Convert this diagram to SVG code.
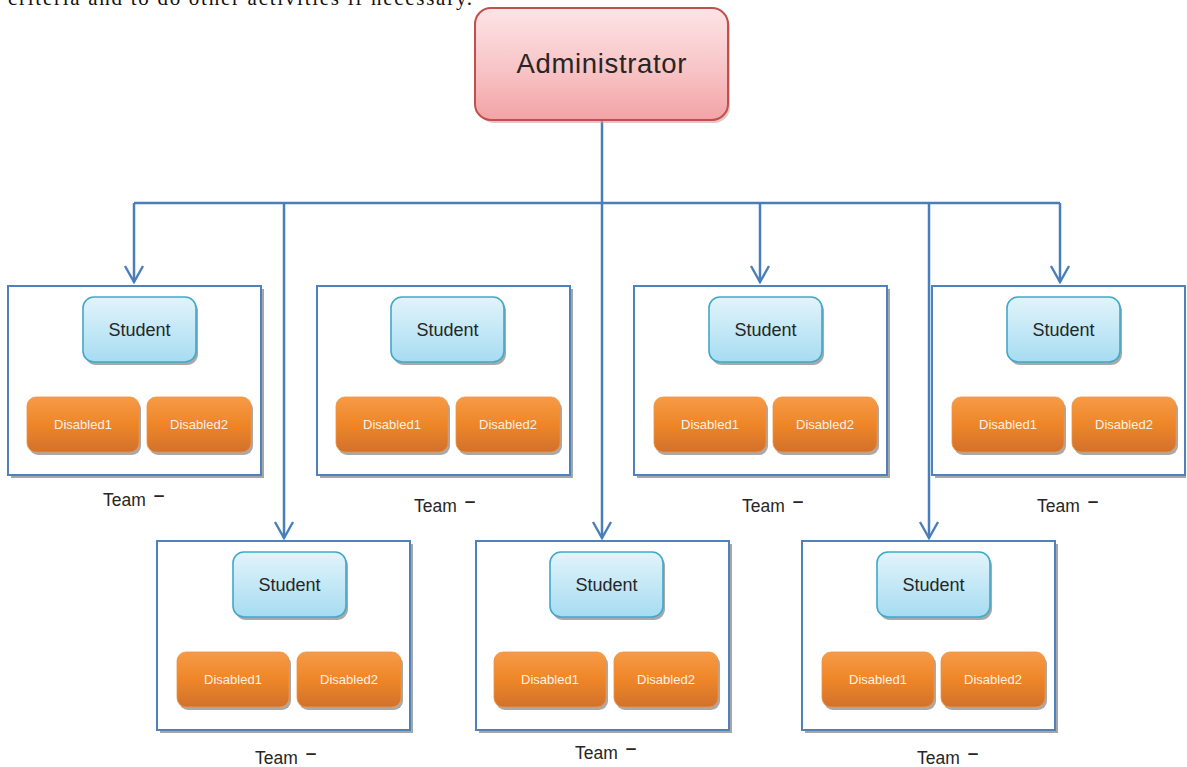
<svg xmlns="http://www.w3.org/2000/svg" width="1187" height="767" viewBox="0 0 1187 767">
<defs>
<linearGradient id="gAdmin" x1="0" y1="0" x2="0" y2="1"><stop offset="0" stop-color="#fde4e6"/><stop offset="0.55" stop-color="#f8c4c6"/><stop offset="1" stop-color="#f3a3a6"/></linearGradient>
<linearGradient id="gStu" x1="0" y1="0" x2="0" y2="1"><stop offset="0" stop-color="#e2f4fb"/><stop offset="1" stop-color="#a6dcf1"/></linearGradient>
<linearGradient id="gDis" x1="0" y1="0" x2="0" y2="1"><stop offset="0" stop-color="#f79a47"/><stop offset="0.5" stop-color="#ee8628"/><stop offset="1" stop-color="#d2712c"/></linearGradient>
<marker id="arr" viewBox="-2 -11 20 22" markerWidth="20" markerHeight="22" refX="16" refY="0" orient="auto" markerUnits="userSpaceOnUse"><path d="M0 -9 L16 0 L0 9" fill="none" stroke="#4a7ebb" stroke-width="2.4"/></marker>
</defs>
<style>
.team{fill:#fff;stroke:#4f81bd;stroke-width:2}
.tsh{fill:#a6a6a6}
.stu{fill:url(#gStu);stroke:#3fa9c9;stroke-width:1.6}
.dis{fill:url(#gDis);stroke:#f0923c;stroke-width:0.8}
.sh{fill:#a9a9a9}
.st{font-family:"Liberation Sans",Arial,sans-serif;font-size:18px;fill:#262626;text-anchor:middle}
.dt{font-family:"Liberation Sans",Arial,sans-serif;font-size:13px;fill:#fdf1e6;text-anchor:middle}
.tl{font-family:"Liberation Sans",Arial,sans-serif;font-size:17.5px;fill:#262626}
.dash{font-size:19px;font-weight:bold}
.con{fill:none;stroke:#4a7ebb;stroke-width:2.5}
</style>
<text x="8" y="5" font-family="'Liberation Serif','Times New Roman',serif" font-size="21" fill="#111" textLength="464" lengthAdjust="spacing">criteria and to do other activities if necessary.</text>

<g id="connectors">
<path class="con" d="M602 120 V203"/>
<path class="con" d="M134 203 H1060"/>
<path class="con" d="M134 203 V282" marker-end="url(#arr)"/>
<path class="con" d="M284 203 V538" marker-end="url(#arr)"/>
<path class="con" d="M602 203 V538" marker-end="url(#arr)"/>
<path class="con" d="M760 203 V282" marker-end="url(#arr)"/>
<path class="con" d="M929 203 V538" marker-end="url(#arr)"/>
<path class="con" d="M1060 203 V282" marker-end="url(#arr)"/>
</g>

<g id="admin">
<rect x="478" y="11" width="252" height="112" rx="16" fill="#c9a3a3" opacity="0.6"/>
<rect x="475" y="8" width="253" height="112" rx="16" fill="url(#gAdmin)" stroke="#c0504d" stroke-width="2"/>
<text x="601.5" y="73" font-family="'Liberation Sans',Arial,sans-serif" font-size="27.5" fill="#262626" text-anchor="middle" textLength="170" lengthAdjust="spacing">Administrator</text>
</g>

<g id="team1">
<rect class="tsh" x="11" y="289" width="253" height="189"/>
<rect class="team" x="8" y="286" width="253" height="189"/>
<rect class="sh" x="85" y="300" width="113" height="65" rx="11"/>
<rect class="stu" x="83" y="297" width="113" height="65" rx="11"/>
<text class="st" x="139.5" y="336">Student</text>
<rect class="sh" x="29" y="400" width="112" height="55" rx="9"/>
<rect class="dis" x="27" y="397" width="112" height="55" rx="9"/>
<text class="dt" x="83" y="429">Disabled1</text>
<rect class="sh" x="149" y="400" width="104" height="55" rx="9"/>
<rect class="dis" x="147" y="397" width="104" height="55" rx="9"/>
<text class="dt" x="199" y="429">Disabled2</text>
<text class="tl" x="103" y="506">Team <tspan class="dash" dx="3" dy="-5">–</tspan></text>
</g>

<g id="team2">
<rect class="tsh" x="320" y="289" width="253" height="189"/>
<rect class="team" x="317" y="286" width="253" height="189"/>
<rect class="sh" x="393" y="300" width="113" height="65" rx="11"/>
<rect class="stu" x="391" y="297" width="113" height="65" rx="11"/>
<text class="st" x="447.5" y="336">Student</text>
<rect class="sh" x="338" y="400" width="112" height="55" rx="9"/>
<rect class="dis" x="336" y="397" width="112" height="55" rx="9"/>
<text class="dt" x="392" y="429">Disabled1</text>
<rect class="sh" x="458" y="400" width="104" height="55" rx="9"/>
<rect class="dis" x="456" y="397" width="104" height="55" rx="9"/>
<text class="dt" x="508" y="429">Disabled2</text>
<text class="tl" x="414" y="512">Team <tspan class="dash" dx="3" dy="-5">–</tspan></text>
</g>

<g id="team3">
<rect class="tsh" x="637" y="289" width="253" height="189"/>
<rect class="team" x="634" y="286" width="253" height="189"/>
<rect class="sh" x="711" y="300" width="113" height="65" rx="11"/>
<rect class="stu" x="709" y="297" width="113" height="65" rx="11"/>
<text class="st" x="765.5" y="336">Student</text>
<rect class="sh" x="656" y="400" width="112" height="55" rx="9"/>
<rect class="dis" x="654" y="397" width="112" height="55" rx="9"/>
<text class="dt" x="710" y="429">Disabled1</text>
<rect class="sh" x="775" y="400" width="104" height="55" rx="9"/>
<rect class="dis" x="773" y="397" width="104" height="55" rx="9"/>
<text class="dt" x="825" y="429">Disabled2</text>
<text class="tl" x="742" y="512">Team <tspan class="dash" dx="3" dy="-5">–</tspan></text>
</g>

<g id="team4">
<rect class="tsh" x="935" y="289" width="251" height="189"/>
<rect class="team" x="932" y="286" width="253" height="189"/>
<rect class="sh" x="1009" y="300" width="113" height="65" rx="11"/>
<rect class="stu" x="1007" y="297" width="113" height="65" rx="11"/>
<text class="st" x="1063.5" y="336">Student</text>
<rect class="sh" x="954" y="400" width="112" height="55" rx="9"/>
<rect class="dis" x="952" y="397" width="112" height="55" rx="9"/>
<text class="dt" x="1008" y="429">Disabled1</text>
<rect class="sh" x="1074" y="400" width="104" height="55" rx="9"/>
<rect class="dis" x="1072" y="397" width="104" height="55" rx="9"/>
<text class="dt" x="1124" y="429">Disabled2</text>
<text class="tl" x="1037" y="512">Team <tspan class="dash" dx="3" dy="-5">–</tspan></text>
</g>

<g id="team5">
<rect class="tsh" x="160" y="544" width="253" height="189"/>
<rect class="team" x="157" y="541" width="253" height="189"/>
<rect class="sh" x="235" y="555" width="113" height="65" rx="11"/>
<rect class="stu" x="233" y="552" width="113" height="65" rx="11"/>
<text class="st" x="289.5" y="591">Student</text>
<rect class="sh" x="179" y="655" width="112" height="55" rx="9"/>
<rect class="dis" x="177" y="652" width="112" height="55" rx="9"/>
<text class="dt" x="233" y="684">Disabled1</text>
<rect class="sh" x="299" y="655" width="104" height="55" rx="9"/>
<rect class="dis" x="297" y="652" width="104" height="55" rx="9"/>
<text class="dt" x="349" y="684">Disabled2</text>
<text class="tl" x="255" y="764">Team <tspan class="dash" dx="3" dy="-5">–</tspan></text>
</g>

<g id="team6">
<rect class="tsh" x="479" y="544" width="253" height="189"/>
<rect class="team" x="476" y="541" width="253" height="189"/>
<rect class="sh" x="552" y="555" width="113" height="65" rx="11"/>
<rect class="stu" x="550" y="552" width="113" height="65" rx="11"/>
<text class="st" x="606.5" y="591">Student</text>
<rect class="sh" x="496" y="655" width="112" height="55" rx="9"/>
<rect class="dis" x="494" y="652" width="112" height="55" rx="9"/>
<text class="dt" x="550" y="684">Disabled1</text>
<rect class="sh" x="616" y="655" width="104" height="55" rx="9"/>
<rect class="dis" x="614" y="652" width="104" height="55" rx="9"/>
<text class="dt" x="666" y="684">Disabled2</text>
<text class="tl" x="575" y="759">Team <tspan class="dash" dx="3" dy="-5">–</tspan></text>
</g>

<g id="team7">
<rect class="tsh" x="805" y="544" width="253" height="189"/>
<rect class="team" x="802" y="541" width="253" height="189"/>
<rect class="sh" x="879" y="555" width="113" height="65" rx="11"/>
<rect class="stu" x="877" y="552" width="113" height="65" rx="11"/>
<text class="st" x="933.5" y="591">Student</text>
<rect class="sh" x="824" y="655" width="112" height="55" rx="9"/>
<rect class="dis" x="822" y="652" width="112" height="55" rx="9"/>
<text class="dt" x="878" y="684">Disabled1</text>
<rect class="sh" x="943" y="655" width="104" height="55" rx="9"/>
<rect class="dis" x="941" y="652" width="104" height="55" rx="9"/>
<text class="dt" x="993" y="684">Disabled2</text>
<text class="tl" x="917" y="764">Team <tspan class="dash" dx="3" dy="-5">–</tspan></text>
</g>
</svg>
